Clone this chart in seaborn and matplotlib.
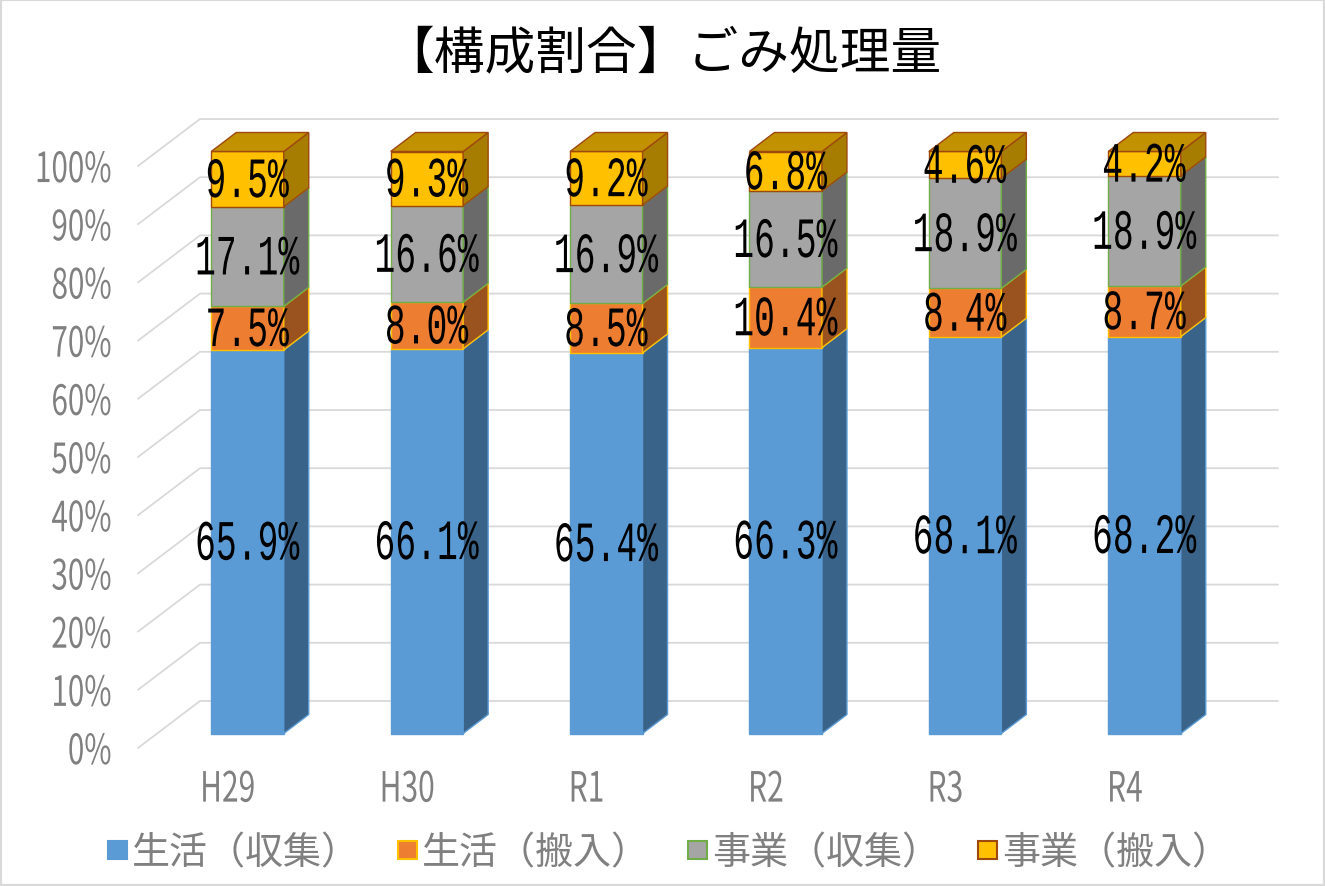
import numpy as np
import pandas as pd
import matplotlib
matplotlib.use("Agg")
import matplotlib.pyplot as plt
import seaborn as sns
from matplotlib.patches import Polygon, Rectangle
from matplotlib.patheffects import AbstractPathEffect
from matplotlib.transforms import Affine2D, ScaledTranslation

years = ["H29", "H30", "R1", "R2", "R3", "R4"]
life_collect = [65.9, 66.1, 65.4, 66.3, 68.1, 68.2]
life_bring = [7.5, 8.0, 8.5, 10.4, 8.4, 8.7]
biz_collect = [17.1, 16.6, 16.9, 16.5, 18.9, 18.9]
biz_bring = [9.5, 9.3, 9.2, 6.8, 4.6, 4.2]
series_names = ["生活（収集）", "生活（搬入）", "事業（収集）", "事業（搬入）"]
yticks = [0, 10, 20, 30, 40, 50, 60, 70, 80, 90, 100]
title = "【構成割合】ごみ処理量"

face = ["#5B9BD5", "#ED7D31", "#A5A5A5", "#FFC000"]
edge = ["#5B9BD5", "#FFC000", "#70AD47", "#9E480E"]
side = ["#3A6389", "#9A521F", "#6A6A6A", "#A67D00"]
top = "#C29100"
grey = "#808080"

W, H = 1325, 887
X0, PITCH = 247.5, 179.4   # px of first bar centre, px between bars
Y0, Y100 = 734.5, 152.5    # px of 0 % and 100 % on the front plane
PPV = (Y0 - Y100) / 100
DX, DY = 25 / PITCH, 19 / PPV   # bar depth in data units


class Squeeze(AbstractPathEffect):
    """Condense a text horizontally, as the narrow UI font of the original."""
    def __init__(self, sx, anchor="center"):
        super().__init__()
        self.sx, self.anchor = sx, anchor

    def draw_path(self, renderer, gc, tpath, affine, rgbFace=None):
        box = tpath.transformed(affine).get_extents()
        ax_ = {"center": (box.x0 + box.x1) / 2, "right": box.x1, "left": box.x0}[self.anchor]
        new = affine + Affine2D().translate(-ax_, 0).scale(self.sx, 1).translate(ax_, 0)
        renderer.draw_path(gc, tpath, new, rgbFace)


sns.set_theme(style="white")
plt.rcParams["font.family"] = ["Noto Sans CJK JP", "DejaVu Sans"]

fig = plt.figure(figsize=(W / 100, H / 100), dpi=100, facecolor="white")
left = X0 - PITCH / 2
ax = fig.add_axes([left / W, 1 - Y0 / H, 6 * PITCH / W, (Y0 - Y100) / H])
ax.patch.set_alpha(0)

df = pd.DataFrame({"year": years, "a": life_collect, "b": life_bring,
                   "c": biz_collect, "d": biz_bring})
cols = ["a", "b", "c", "d"]
bottoms = np.zeros(len(years))
BW = 72.5 / PITCH
xs = np.arange(len(years))
for i, col in enumerate(cols):
    vals = df[col].to_numpy()
    sns.barplot(data=df, x="year", y=col, bottom=bottoms, color=face[i], saturation=1,
                edgecolor=edge[i], linewidth=1.0, width=BW, ax=ax, zorder=3, clip_on=False)
    for x, b, v in zip(xs, bottoms, vals):
        r = x + BW / 2
        ax.add_patch(Polygon([(r, b), (r + DX, b + DY), (r + DX, b + v + DY), (r, b + v)],
                             closed=True, facecolor=side[i], edgecolor=edge[i], linewidth=1.0,
                             zorder=3, clip_on=False))
        if i == len(cols) - 1:
            l = x - BW / 2
            ax.add_patch(Polygon([(l, b + v), (r, b + v), (r + DX, b + v + DY), (l + DX, b + v + DY)],
                                 closed=True, facecolor=top, edgecolor=edge[i], linewidth=1.0,
                                 zorder=3, clip_on=False))
        ax.text(x - 1 / PITCH, b + v / 2 - 0.5, f"{v:.1f}%", ha="center", va="center", fontsize=41,
                family=["Liberation Mono"], color="black", zorder=5,
                path_effects=[Squeeze(0.61)])
    bottoms = bottoms + vals

ax.set_xlim(-0.5, 5.5)
ax.set_ylim(0, 100)
sns.despine(ax=ax, left=True, bottom=True)


# back wall and side wall grid lines
def px_x(p):
    return (p - X0) / PITCH


def px_dy(p):
    return (Y0 - p) / PPV


for v in yticks:
    ax.plot([px_x(138), px_x(200), px_x(1278)],
            [v + px_dy(749), v + px_dy(702), v + px_dy(702)],
            color="#D9D9D9", lw=1.3, zorder=1, clip_on=False, solid_joinstyle="miter")

ax.set_yticks(yticks)
ax.set_yticklabels([f"{v}%" for v in yticks])
ax.set_xlabel("")
ax.set_ylabel("")
ax.tick_params(axis="both", length=0)
ax.tick_params(axis="y", pad=(left - 112) * 0.72)
ax.tick_params(axis="x", pad=26)
shift_y = ScaledTranslation(0, -10.5 / 72, fig.dpi_scale_trans)
shift_x = ScaledTranslation(-14.4 / 72, 0, fig.dpi_scale_trans)
for t in ax.get_yticklabels():
    t.set_fontsize(30)
    t.set_color(grey)
    t.set_path_effects([Squeeze(0.71, "right")])
    t.set_transform(t.get_transform() + shift_y)
for t in ax.get_xticklabels():
    t.set_fontsize(30)
    t.set_color(grey)
    t.set_path_effects([Squeeze(0.72)])
    t.set_transform(t.get_transform() + shift_x)

fig.text(662 / W, 1 - 54 / H, title, ha="center", va="center", fontsize=36.5, color="black")

handles = [Rectangle((0, 0), 1, 1, facecolor=face[i], edgecolor=edge[i], linewidth=1.5)
           for i in range(4)]
fig.legend(handles, series_names, ncol=4, loc="center", bbox_to_anchor=(669 / W, 1 - 854 / H),
           frameon=False, fontsize=27.4, labelcolor=grey, handlelength=0.5, handleheight=0.352,
           handletextpad=0.13, columnspacing=1.0, borderpad=0, borderaxespad=0)

fig.add_artist(Rectangle((0, 0), 1, 1, transform=fig.transFigure, fill=False,
                         edgecolor="#D9D9D9", linewidth=3, zorder=10))
fig.savefig("out.png", dpi=100, facecolor="white")
